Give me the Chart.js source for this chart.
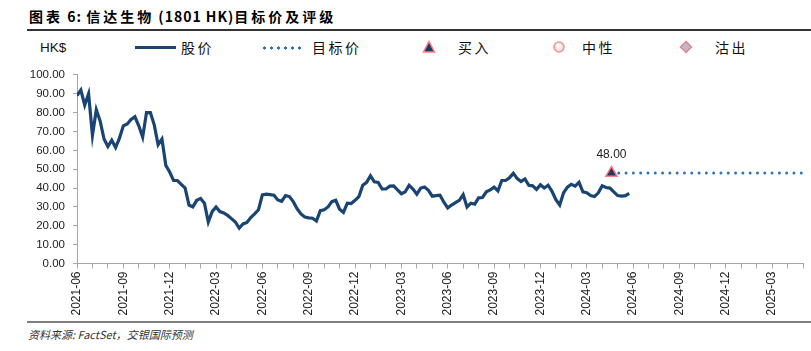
<!DOCTYPE html>
<html>
<head>
<meta charset="utf-8">
<script src="https://cdn.jsdelivr.net/npm/chart.js@4.4.1/dist/chart.umd.min.js"></script>
<style>
  body { margin: 0; width: 811px; height: 351px; background: #fff; position: relative; overflow: hidden; font-family: "Noto Sans CJK SC", sans-serif; color: #000; }
  .abs { position: absolute; white-space: nowrap; }
  #title { left: 29px; top: 6px; font-size: 14px; font-weight: bold; line-height: 20px; letter-spacing: 1px; }
  #title .cj { letter-spacing: 3px; }
  #rule { left: 27px; right: 0; top: 29px; height: 2px; background: #333; }
  .lg { top: 39px; font-size: 14px; line-height: 17px; letter-spacing: 2.5px; color: #111; }
  #unit { left: 40px; top: 39px; font-family: "Liberation Sans", sans-serif; font-size: 13.5px; line-height: 17px; color: #111; }
  #lineSample { left: 135px; top: 46px; width: 41px; height: 3px; background: #1a4472; }
  #dotSample { left: 261px; top: 45.5px; width: 42px; height: 4px;
    background: radial-gradient(circle, #2e75b6 1.4px, transparent 1.8px) 0 0 / 7px 4px repeat-x; }
  #wrap { left: 0; top: 60px; width: 811px; height: 262px; }
  #footRule { left: 27px; right: 0; top: 321px; height: 2px; background: #7f7f7f; }
  #foot { left: 28px; top: 326px; font-size: 11px; font-style: italic; color: #333; }
</style>
</head>
<body>
<div id="title" class="abs"><span class="cj">图表</span> 6: <span class="cj">信达生物</span> (1801 HK)<span class="cj">目标价及评级</span></div>
<div id="rule" class="abs"></div>

<div id="unit" class="abs">HK$</div>
<div id="lineSample" class="abs"></div>
<div class="abs lg" style="left:181px">股价</div>
<div id="dotSample" class="abs"></div>
<div class="abs lg" style="left:312px">目标价</div>
<svg class="abs" style="left:422px;top:40px" width="14" height="14" viewBox="0 0 14 14">
  <polygon points="7,1.5 12.5,12 1.5,12" fill="#1f3864" stroke="#ff7c80" stroke-width="1.5"/>
</svg>
<div class="abs lg" style="left:458px">买入</div>
<svg class="abs" style="left:552px;top:40px" width="14" height="14" viewBox="0 0 14 14">
  <defs><radialGradient id="g1" cx="40%" cy="35%" r="65%"><stop offset="0" stop-color="#ffffff"/><stop offset="1" stop-color="#d9d9d9"/></radialGradient></defs>
  <circle cx="7" cy="7" r="5" fill="url(#g1)" stroke="#ff8f8f" stroke-width="1.5"/>
</svg>
<div class="abs lg" style="left:582px">中性</div>
<svg class="abs" style="left:679px;top:40px" width="14" height="14" viewBox="0 0 14 14">
  <polygon points="7,1.5 12.5,7 7,12.5 1.5,7" fill="#b4bdd0" stroke="#f08080" stroke-width="1.5"/>
</svg>
<div class="abs lg" style="left:715px">沽出</div>

<div id="wrap" class="abs"><canvas id="chart"></canvas></div>

<div id="footRule" class="abs"></div>
<div id="foot" class="abs">资料来源: FactSet，交银国际预测</div>

<script>
// months on the x axis, counted from 2021-06
const startYear = 2021
const startMonth = 6
const axisMonths = 47          // last tick: 2025-05
const labelEvery = 3

// share price, sampled every quarter month from 2021-06
const priceStep = 0.25
const priceValues = [
  89, 92, 84, 90, 68, 81.5, 75.5, 66, 62, 65.4, 61.5, 66.5,
  73, 74, 76.4, 77.8, 73, 67, 80, 80, 73.5, 63, 66, 52,
  48.5, 44, 44, 42, 40, 31, 30, 33.5, 34.5, 32, 22, 27.5,
  30, 27.5, 26.8, 25.5, 23.8, 22, 18.8, 21, 21.8, 24.4, 26.3, 28.5,
  36.4, 36.8, 36.5, 36.2, 33.7, 33, 36, 35.5, 32.8, 29, 26.3, 24.6,
  24.2, 24, 22.5, 28, 28.5, 30, 32.8, 33.5, 28.8, 27.1, 32, 31.8,
  33.5, 35.5, 41.5, 43, 46.5, 43.3, 43, 39.5, 39.5, 41, 41.2, 39,
  37, 38, 41.5, 39.5, 36.8, 40, 40.5, 38.8, 35.7, 36, 36.2, 32.5,
  29.5, 31, 32.3, 33.5, 36.5, 30, 32, 31.5, 34.8, 35, 38, 39,
  40.5, 38.5, 44, 44, 45.5, 47.8, 45, 43.5, 44.8, 41.5, 41.2, 39.3,
  41.7, 40, 41.5, 38.3, 33.8, 31, 37.5, 40.5, 42, 41, 43, 38,
  37.5, 36, 35.5, 37.5, 41.2, 40.3, 40, 38, 36, 35.7, 36, 37.2
]

// rating (buy) with target price
const ratingDate = '2024-04-19'
const targetPrice = 48.0

function monthLabel(i) {
  const total = startMonth - 1 + i
  const y = startYear + Math.floor(total / 12)
  const m = (total % 12) + 1
  return y + '-' + String(m).padStart(2, '0')
}

function monthIndex(dateStr) {
  const [y, m, d] = dateStr.split('-').map(Number)
  const days = new Date(y, m, 0).getDate()
  return (y - startYear) * 12 + (m - startMonth) + (d - 1) / days
}

const ratingX = monthIndex(ratingDate)
const pricePoints = priceValues.map((v, i) => ({ x: i * priceStep, y: v }))

const targetLabel = {
  id: 'targetLabel',
  afterDatasetsDraw(chart) {
    const meta = chart.getDatasetMeta(0)
    const pt = meta.data[0]
    if (!pt) return
    const ctx = chart.ctx
    ctx.save()
    ctx.font = '12px "Liberation Sans", sans-serif'
    ctx.fillStyle = '#222'
    ctx.textAlign = 'center'
    ctx.textBaseline = 'middle'
    ctx.fillText(targetPrice.toFixed(2), pt.x, pt.y - 18)
    ctx.restore()
  },
}

const axisColor = '#a6a6a6'

new Chart(document.getElementById('chart'), {
  type: 'line',
  data: {
    datasets: [
      {
        label: '买入',
        type: 'scatter',
        data: [{ x: ratingX, y: targetPrice }],
        pointStyle: 'triangle',
        pointRadius: 6.5,
        backgroundColor: '#1f3864',
        borderColor: '#ff7c80',
        borderWidth: 1.5,
        order: 0,
      },
      {
        label: '目标价',
        data: [{ x: ratingX, y: targetPrice }, { x: axisMonths, y: targetPrice }],
        borderColor: '#2e75b6',
        borderWidth: 3,
        borderDash: [0, 7.3],
        borderCapStyle: 'round',
        pointRadius: 0,
        order: 1,
      },
      {
        label: '股价',
        data: pricePoints,
        borderColor: '#1a4472',
        borderWidth: 3.2,
        pointRadius: 0,
        tension: 0,
        order: 2,
      },
    ],
  },
  options: {
    responsive: true,
    maintainAspectRatio: false,
    animation: false,
    layout: { padding: { top: 7, right: 5, left: 0, bottom: 0 } },
    plugins: {
      legend: { display: false },
      tooltip: { enabled: false },
    },
    scales: {
      x: {
        type: 'linear',
        min: 0,
        max: axisMonths,
        afterFit: function (scale) {
          scale.height = 58.5
          scale.paddingLeft = 0
          scale.paddingRight = 0
        },
        ticks: {
          stepSize: 1,
          autoSkip: false,
          minRotation: 90,
          maxRotation: 90,
          padding: 3,
          color: '#222',
          font: { family: 'Liberation Sans', size: 12 },
          callback: function (value) {
            return value % labelEvery === 0 ? monthLabel(value) : ''
          },
        },
        grid: {
          drawOnChartArea: false,
          drawTicks: true,
          tickLength: 5,
          color: axisColor,
        },
        border: { color: axisColor, width: 1 },
      },
      y: {
        min: 0,
        max: 100,
        afterFit: function (scale) {
          scale.width = 77
        },
        ticks: {
          stepSize: 10,
          padding: 8,
          color: '#222',
          font: { family: 'Liberation Sans', size: 11.5 },
          callback: function (value) {
            return value.toFixed(2)
          },
        },
        grid: {
          drawOnChartArea: false,
          drawTicks: true,
          tickLength: 4,
          color: axisColor,
        },
        border: { color: axisColor, width: 1 },
      },
    },
  },
  plugins: [targetLabel],
})
</script>
</body>
</html>
